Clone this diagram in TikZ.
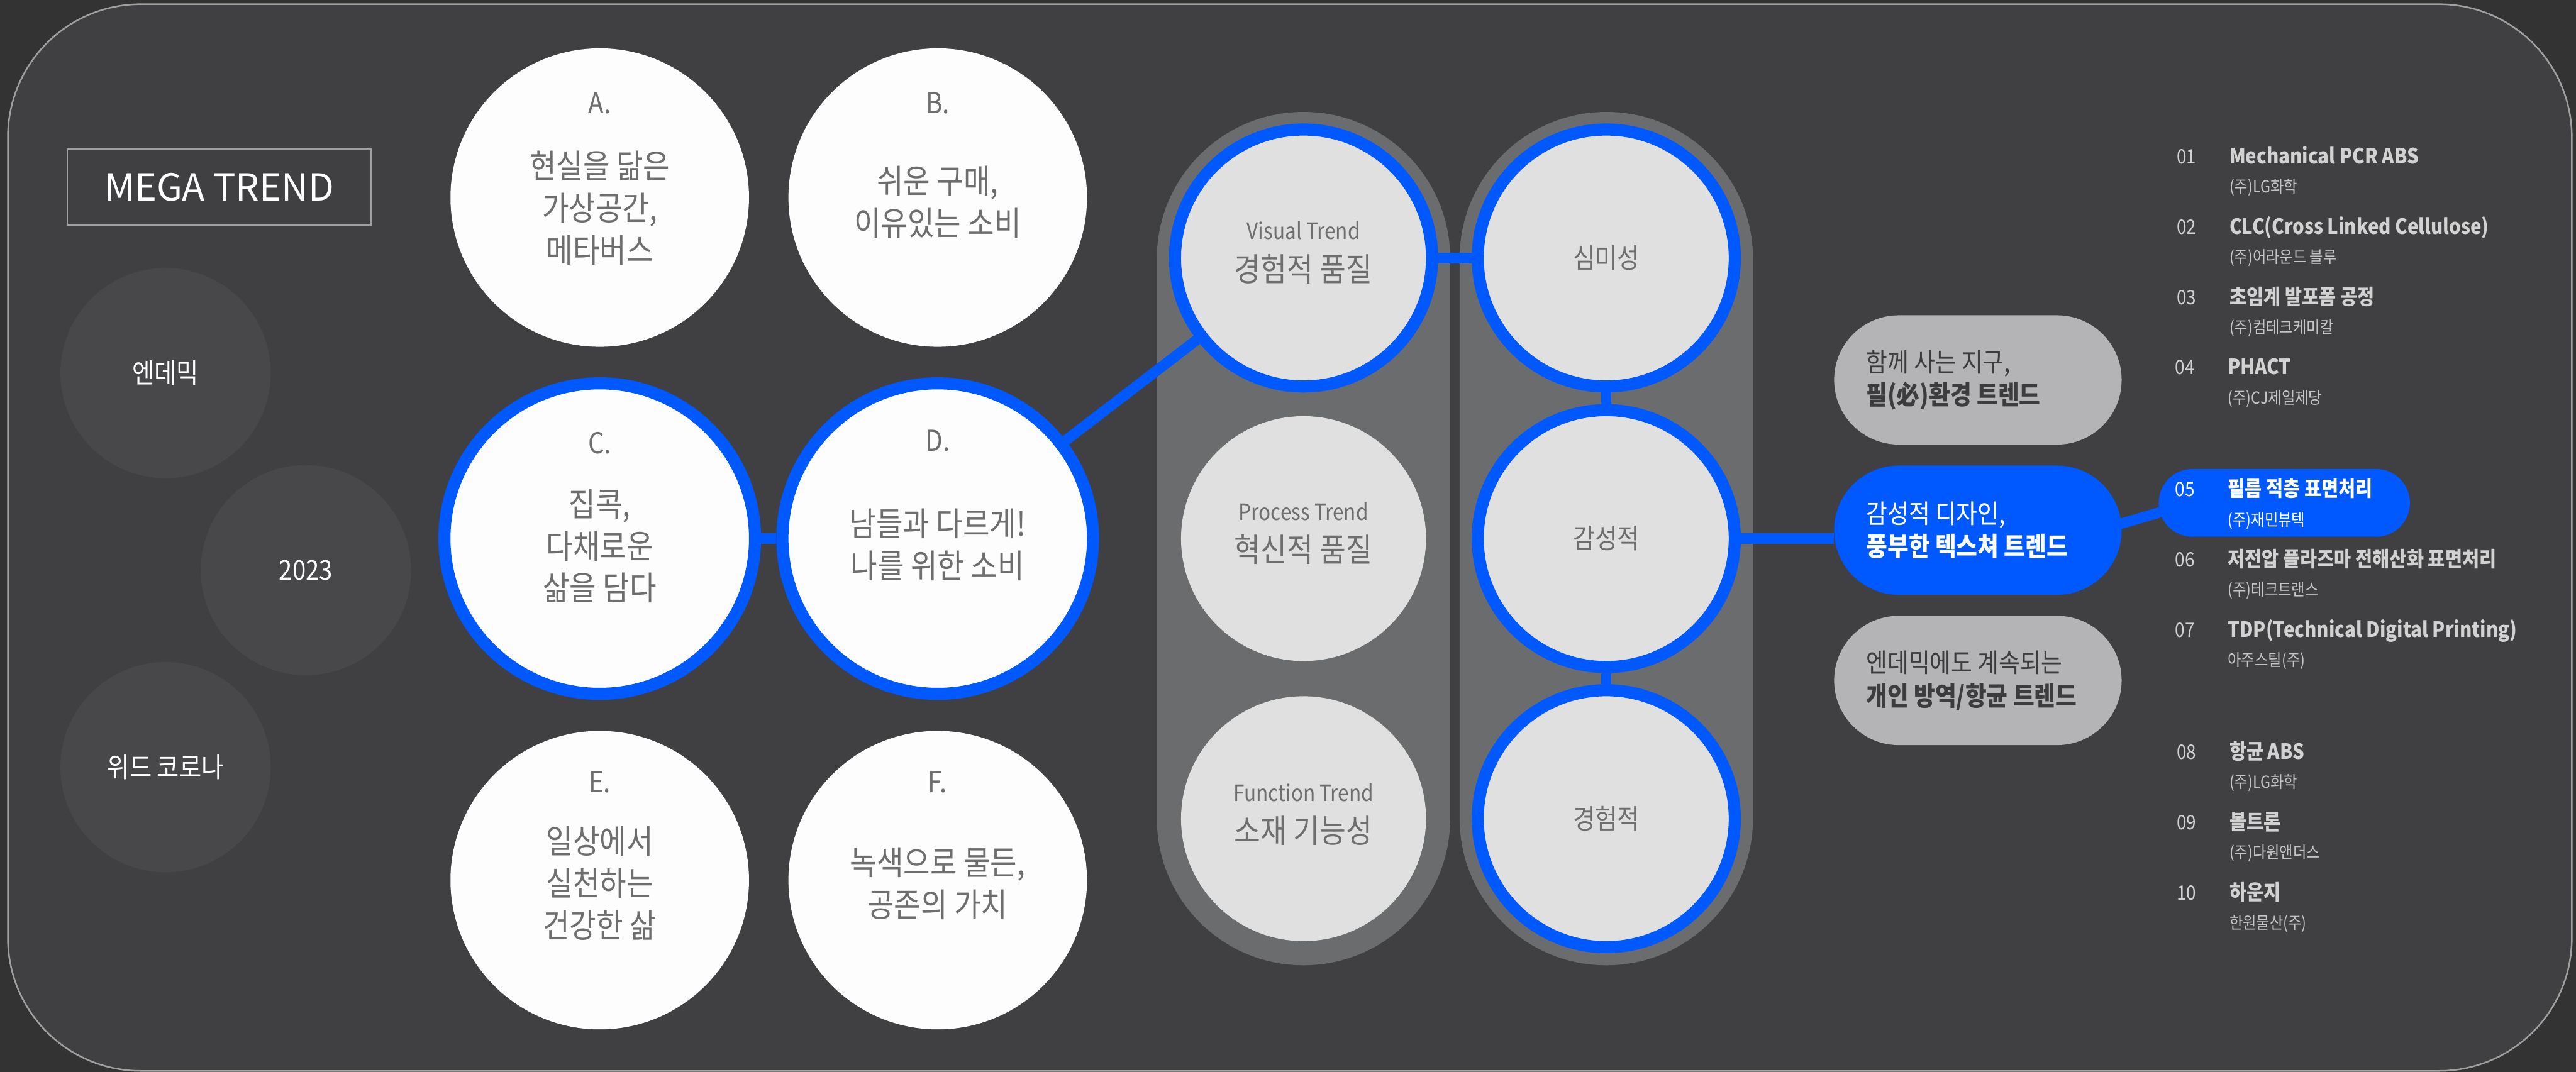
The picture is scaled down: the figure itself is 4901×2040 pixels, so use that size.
\documentclass[tikz,border=0pt]{standalone}
\usepackage{fontspec}
\setmainfont{Noto Sans CJK KR}[FakeStretch=0.88]
\newfontfamily\plainfont{Noto Sans CJK KR}
\pgfdeclarelayer{bg}
\pgfdeclarelayer{conn}
\pgfsetlayers{bg,conn,main}
\definecolor{outerbg}{HTML}{333333}
\definecolor{panel}{HTML}{404042}
\definecolor{panelborder}{HTML}{A0A0A0}
\definecolor{darkcirc}{HTML}{48484A}
\definecolor{whitec}{HTML}{FDFDFD}
\definecolor{textgray}{HTML}{6E6E6E}
\definecolor{capsule}{HTML}{6A6C6D}
\definecolor{trendfill}{HTML}{E0E0E0}
\definecolor{accent}{HTML}{0058FF}
\definecolor{pillgray}{HTML}{B4B4B6}
\definecolor{pilltext}{HTML}{3C3C3E}
\definecolor{listtext}{HTML}{D2D2D2}
\definecolor{listsub}{HTML}{C4C4C4}
\begin{document}
\begin{tikzpicture}[x=0.1mm, y=-0.1mm,
  megabox/.style={draw=panelborder, line width=0.3mm, minimum width=57.8mm, minimum height=14.4mm, inner sep=0pt, text=white, font=\plainfont\fontsize{20.2pt}{24pt}\selectfont},
  yearcirc/.style={circle, fill=darkcirc, minimum size=40mm, inner sep=0pt, text=white, font=\fontsize{14.8pt}{18pt}\selectfont},
  bigcirc/.style={circle, fill=whitec, minimum size=56.8mm, inner sep=0pt},
  bigring/.style={bigcirc, draw=accent, line width=2.3mm, minimum size=59.1mm},
  lbl/.style={inner sep=0pt, text=textgray, font=\fontsize{15.6pt}{18pt}\selectfont},
  body/.style={inner sep=0pt, align=center, text=textgray, font=\fontsize{17.9pt}{22.8pt}\selectfont},
  trendcirc/.style={circle, fill=trendfill, minimum size=46.6mm, inner sep=0pt},
  trendring/.style={trendcirc, draw=accent, line width=2.3mm, minimum size=48.9mm},
  tsmall/.style={inner sep=0pt, text=textgray, font=\fontsize{12.2pt}{14pt}\selectfont},
  tbig/.style={inner sep=0pt, text=textgray, font=\fontsize{17.6pt}{20pt}\selectfont},
  tmid/.style={text=textgray, font=\fontsize{14.8pt}{18pt}\selectfont},
  link/.style={draw=accent, line width=2mm},
  pill/.style={rectangle, rounded corners=12.3mm, minimum width=54.7mm, minimum height=24.6mm, inner sep=0pt},
  pilltxt/.style={anchor=west, align=left, inner sep=0pt, font=\fontsize{14.2pt}{17.9pt}\selectfont},
  listnum/.style={anchor=west, inner sep=0pt, text=listtext, text height=0.9em, text depth=0.2em, font=\fontsize{10.8pt}{13pt}\selectfont},
  listtitle/.style={anchor=west, inner sep=0pt, text=listtext, text height=0.9em, text depth=0.2em, font=\bfseries\fontsize{11.4pt}{14pt}\selectfont},
  listsubt/.style={anchor=west, inner sep=0pt, text=listsub, text height=0.9em, text depth=0.2em, font=\fontsize{9pt}{11pt}\selectfont}
]
\useasboundingbox (0,0) rectangle (4901,2040);
\begin{pgfonlayer}{bg}
  \fill[outerbg] (0,0) rectangle (4901,2040);
  \draw[fill=panel, draw=panelborder, line width=0.3mm, rounded corners=25.3mm] (15,8) rectangle (4893,2038);
  \fill[capsule, rounded corners=27.9mm] (2201,213) rectangle (2759,1837);
  \fill[capsule, rounded corners=27.9mm] (2777,213) rectangle (3335,1837);
\end{pgfonlayer}

% MEGA TREND and year circles
\node[megabox] (mega) at (417,356) {MEGA TREND};
\node[yearcirc] (endemic) at (315,710) {엔데믹};
\node[yearcirc] (y2023) at (582,1085) {2023};
\node[yearcirc] (withcorona) at (315,1460) {위드 코로나};

% A-F circles
\node[bigcirc] (A) at (1141,376) {};
\node[bigcirc] (B) at (1784,376) {};
\node[bigring] (C) at (1141,1025) {};
\node[bigring] (D) at (1784,1025) {};
\node[bigcirc] (E) at (1141,1675) {};
\node[bigcirc] (F) at (1784,1675) {};

\node[lbl] (Al) at ([shift={(0,-180)}]A.center) {A.};
\node[body] (At) at ([shift={(0,20)}]A.center) {현실을 닮은\\가상공간,\\메타버스};
\node[lbl] (Bl) at ([shift={(0,-180)}]B.center) {B.};
\node[body] (Bt) at ([shift={(0,8)}]B.center) {쉬운 구매,\\이유있는 소비};
\node[lbl] (Cl) at ([shift={(0,-182)}]C.center) {C.};
\node[body] (Ct) at ([shift={(0,14)}]C.center) {집콕,\\다채로운\\삶을 담다};
\node[lbl] (Dl) at ([shift={(0,-186)}]D.center) {D.};
\node[body] (Dt) at ([shift={(0,12)}]D.center) {남들과 다르게!\\나를 위한 소비};
\node[lbl] (El) at ([shift={(0,-186)}]E.center) {E.};
\node[body] (Et) at ([shift={(0,6)}]E.center) {일상에서\\실천하는\\건강한 삶};
\node[lbl] (Fl) at ([shift={(0,-186)}]F.center) {F.};
\node[body] (Ft) at ([shift={(0,6)}]F.center) {녹색으로 물든,\\공존의 가치};

% trend circles
\node[trendring] (VT) at (2480,491) {};
\node[trendcirc] (PT) at (2480,1025) {};
\node[trendcirc] (FT) at (2480,1558) {};
\node[trendring] (S1) at (3056,491) {};
\node[trendring] (S2) at (3056,1025) {};
\node[trendring] (S3) at (3056,1558) {};

\node[tsmall] (VTa) at ([shift={(0,-52)}]VT.center) {Visual Trend};
\node[tbig] (VTb) at ([shift={(0,21)}]VT.center) {경험적 품질};
\node[tsmall] (PTa) at ([shift={(0,-52)}]PT.center) {Process Trend};
\node[tbig] (PTb) at ([shift={(0,21)}]PT.center) {혁신적 품질};
\node[tsmall] (FTa) at ([shift={(0,-50)}]FT.center) {Function Trend};
\node[tbig] (FTb) at ([shift={(0,23)}]FT.center) {소재 기능성};
\node[tmid] (S1t) at (S1.center) {심미성};
\node[tmid] (S2t) at (S2.center) {감성적};
\node[tmid] (S3t) at (S3.center) {경험적};

% pills
\node[pill, fill=pillgray] (P1) at (3763,723) {};
\node[pill, fill=accent] (P2) at (3763,1009) {};
\node[pill, fill=pillgray] (P3) at (3763,1295) {};
\node[pilltxt, text=pilltext] (P1t) at (3550,723) {함께 사는 지구,\\\textbf{필(必)환경 트렌드}};
\node[pilltxt, text=white] (P2t) at (3550,1009) {감성적 디자인,\\\textbf{풍부한 텍스쳐 트렌드}};
\node[pilltxt, text=pilltext] (P3t) at (3550,1295) {엔데믹에도 계속되는\\\textbf{개인 방역/항균 트렌드}};

% list
\node[rectangle, rounded corners=6.45mm, minimum width=47.8mm, minimum height=12.9mm, inner sep=0pt, fill=accent] (H05) at (4346,957) {};

\node[listnum] (n01) at (4141,299) {01};
\node[listtitle] (t01) at (4241,299) {Mechanical PCR ABS};
\node[listsubt] (s01) at (4241,355) {(주)LG화학};
\node[listnum] (n02) at (4141,433) {02};
\node[listtitle] (t02) at (4241,433) {CLC(Cross Linked Cellulose)};
\node[listsubt] (s02) at (4241,489) {(주)어라운드 블루};
\node[listnum] (n03) at (4141,567) {03};
\node[listtitle] (t03) at (4241,567) {초임계 발포폼 공정};
\node[listsubt] (s03) at (4241,623) {(주)컴테크케미칼};
\node[listnum] (n04) at (4138,700) {04};
\node[listtitle] (t04) at (4238,700) {PHACT};
\node[listsubt] (s04) at (4238,756) {(주)CJ제일제당};
\node[listnum, text=white] (n05) at (4138,932) {05};
\node[listtitle, text=white] (t05) at (4238,932) {필름 적층 표면처리};
\node[listsubt, text=white] (s05) at (4238,988) {(주)재민뷰텍};
\node[listnum] (n06) at (4138,1066) {06};
\node[listtitle] (t06) at (4238,1066) {저전압 플라즈마 전해산화 표면처리};
\node[listsubt] (s06) at (4238,1122) {(주)테크트랜스};
\node[listnum] (n07) at (4138,1200) {07};
\node[listtitle] (t07) at (4238,1200) {TDP(Technical Digital Printing)};
\node[listsubt] (s07) at (4238,1256) {아주스틸(주)};
\node[listnum] (n08) at (4141,1432) {08};
\node[listtitle] (t08) at (4241,1432) {항균 ABS};
\node[listsubt] (s08) at (4241,1488) {(주)LG화학};
\node[listnum] (n09) at (4141,1566) {09};
\node[listtitle] (t09) at (4241,1566) {볼트론};
\node[listsubt] (s09) at (4241,1622) {(주)다원앤더스};
\node[listnum] (n10) at (4141,1700) {10};
\node[listtitle] (t10) at (4241,1700) {하운지};
\node[listsubt] (s10) at (4241,1756) {한원물산(주)};

% connectors
\begin{pgfonlayer}{conn}
  \draw[link] (C) -- (D);
  \draw[link] (D) -- (VT);
  \draw[link] (VT) -- (S1);
  \draw[link] (S1) -- (S2);
  \draw[link] (S2) -- (S3);
  \draw[link] (S2.east) -- (S2.east -| P2.west);
  \draw[link] ([shift={(227,1)}]P2.center) -- ([shift={(-196,6)}]H05.center);
\end{pgfonlayer}
\end{tikzpicture}
\end{document}
